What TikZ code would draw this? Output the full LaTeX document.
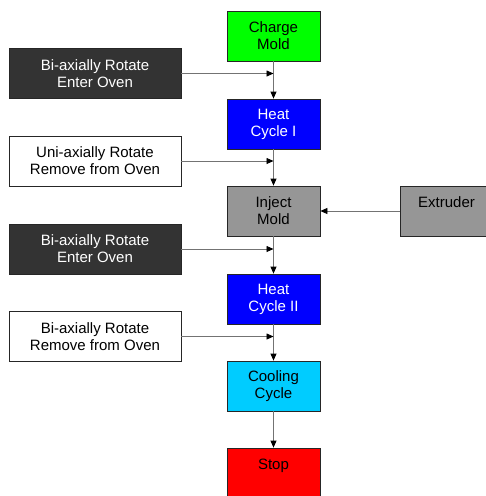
\documentclass[tikz,border=0pt]{standalone}
\usepackage{fontspec}
\setmainfont{Liberation Sans}
\usetikzlibrary{arrows.meta}
\definecolor{moldgreen}{HTML}{00FF00}
\definecolor{heatblue}{HTML}{0000FF}
\definecolor{injectgray}{HTML}{969696}
\definecolor{coolcyan}{HTML}{00CCFF}
\definecolor{stopred}{HTML}{FF0000}
\definecolor{rotdark}{HTML}{333333}
\begin{document}
\begin{tikzpicture}[x=1pt,y=-1pt,
    boxnode/.style={draw=black!85,line width=.8pt,minimum width=93pt,minimum height=50pt,inner sep=0pt,align=center,font=\fontsize{15}{17}\selectfont},
    sidenode/.style={boxnode,minimum width=172pt},
    darknode/.style={sidenode,fill=rotdark,text=white},
    whitenode/.style={sidenode,fill=white,text=black},
    flow/.style={draw=black!55,line width=.8pt,-{Triangle[length=7pt,width=6pt,color=black]}}]

  %% Fix the page
  \useasboundingbox (0,0) rectangle (486,496);

  %% Main column
  \node[boxnode,fill=moldgreen] (charge) at (273.5,36) {Charge\\Mold};
  \node[boxnode,fill=heatblue,text=white] (heat1) at (273.5,124) {Heat\\Cycle I};
  \node[boxnode,fill=injectgray] (inject) at (273.5,211) {Inject\\Mold};
  \node[boxnode,fill=heatblue,text=white] (heat2) at (273.5,299) {Heat\\Cycle II};
  \node[boxnode,fill=coolcyan] (cool) at (273.5,386) {Cooling\\Cycle};
  \node[boxnode,fill=stopred] (stop) at (273.5,473) {Stop\\\mbox{}};

  %% Side boxes
  \node[darknode] (rot1) at (95,73.5) {Bi-axially Rotate\\Enter Oven};
  \node[whitenode] (rot2) at (95,161) {Uni-axially Rotate\\Remove from Oven};
  \node[darknode] (rot3) at (95,249) {Bi-axially Rotate\\Enter Oven};
  \node[whitenode] (rot4) at (95,336.5) {Bi-axially Rotate\\Remove from Oven};
  \node[boxnode,fill=injectgray] (extruder) at (446.5,211) {Extruder\\\mbox{}};

  %% Connectors
  \foreach \a/\b in {charge/heat1,heat1/inject,inject/heat2,heat2/cool,cool/stop}{
    \draw[flow] (\a) -- (\b);
  }
  \foreach \r in {rot1,rot2,rot3,rot4}{
    \draw[flow] (\r) -- (\r -| charge);
  }
  \draw[flow] (extruder) -- (inject);

\end{tikzpicture}
\end{document}
